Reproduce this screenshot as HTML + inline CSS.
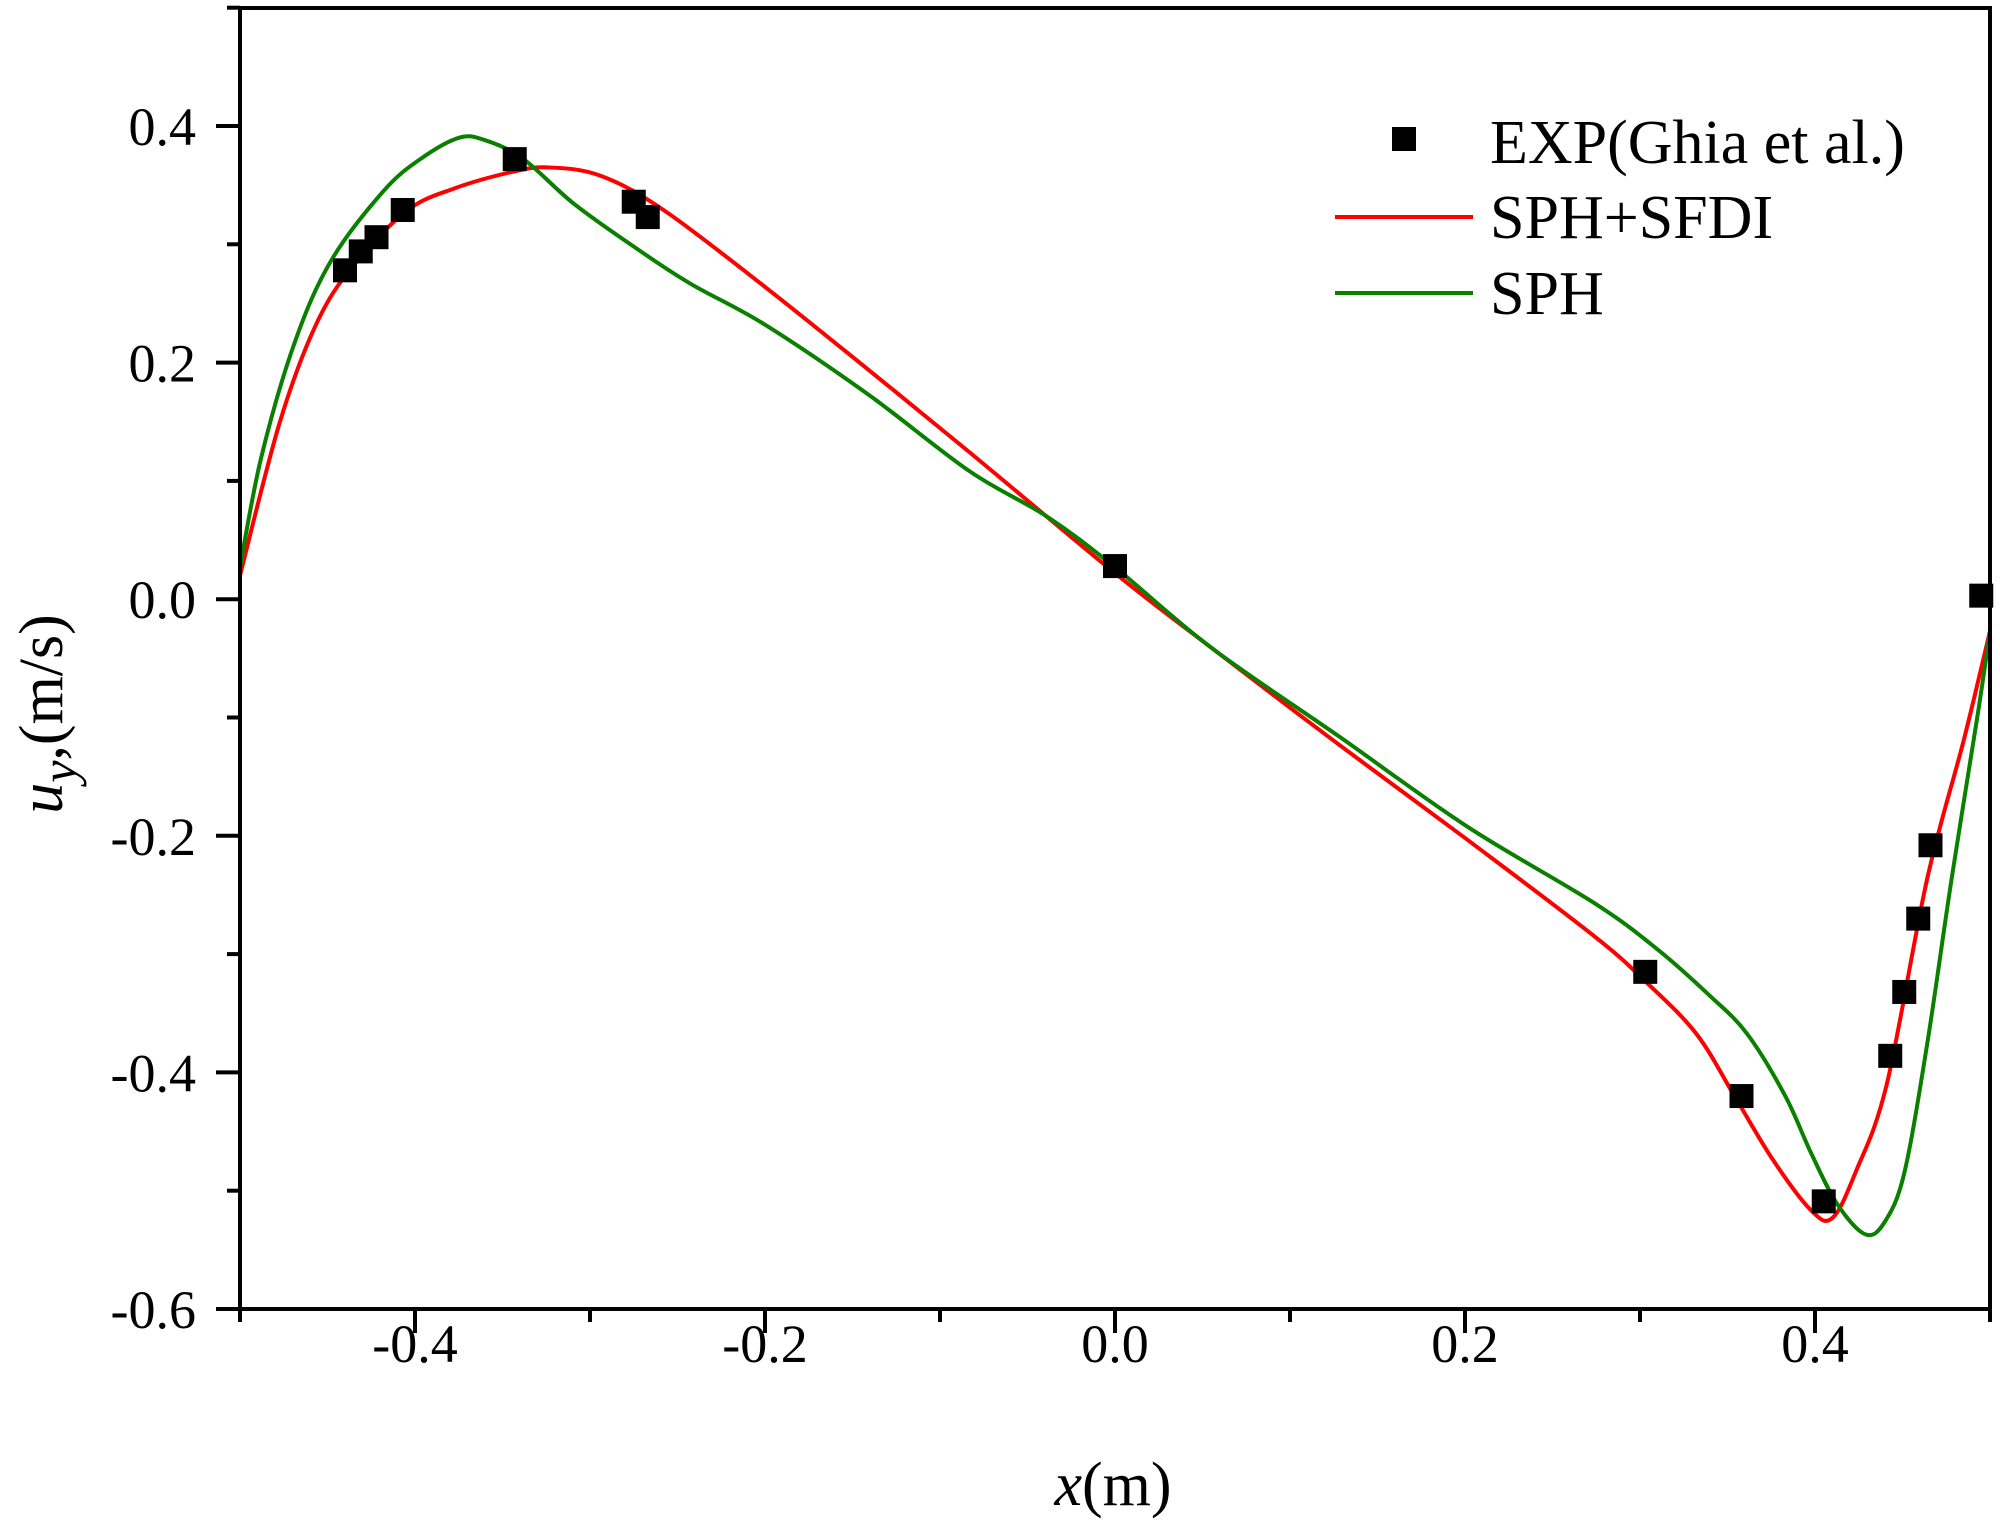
<!DOCTYPE html>
<html><head><meta charset="utf-8"><style>
html,body{margin:0;padding:0;background:#fff;}
svg{display:block;font-family:"Liberation Serif",serif;}
</style></head><body>
<svg id="chart" width="2000" height="1528" viewBox="0 0 2000 1528">
</svg>
<script>
const xTicks=[-0.4,-0.2,0.0,0.2,0.4];
const xTickLabels=["-0.4","-0.2","0.0","0.2","0.4"];
const xMinor=[-0.5,-0.3,-0.1,0.1,0.3,0.5];
const yTicks=[-0.6,-0.4,-0.2,0.0,0.2,0.4];
const yTickLabels=["-0.6","-0.4","-0.2","0.0","0.2","0.4"];
const yMinor=[-0.5,-0.3,-0.1,0.1,0.3,0.5];
const expX=[-0.440,-0.431,-0.422,-0.407,-0.343,-0.275,-0.267,0.0,0.303,0.358,0.405,0.443,0.451,0.459,0.466,0.495];
const expY=[0.278,0.294,0.306,0.329,0.372,0.336,0.323,0.028,-0.315,-0.420,-0.509,-0.386,-0.332,-0.270,-0.208,0.003];
const sfdiX=[-0.5,-0.477,-0.455,-0.433,-0.404,-0.378,-0.345,-0.324,-0.294,-0.258,-0.2,-0.141,-0.083,0,0.055,0.128,0.201,0.274,0.303,0.332,0.354,0.376,0.398,0.410,0.423,0.441,0.464,0.485,0.5];
const sfdiY=[0.02,0.151,0.237,0.286,0.329,0.347,0.361,0.365,0.358,0.329,0.264,0.194,0.124,0.022,-0.041,-0.123,-0.203,-0.285,-0.323,-0.367,-0.420,-0.474,-0.517,-0.523,-0.485,-0.410,-0.237,-0.119,-0.027];
const sphX=[-0.5,-0.488,-0.469,-0.448,-0.418,-0.397,-0.375,-0.360,-0.338,-0.309,-0.273,-0.243,-0.2,-0.141,-0.083,-0.039,0,0.055,0.128,0.201,0.274,0.310,0.339,0.361,0.383,0.398,0.413,0.429,0.440,0.451,0.464,0.478,0.493,0.5];
const sphY=[0.027,0.119,0.216,0.286,0.345,0.372,0.390,0.388,0.372,0.334,0.296,0.267,0.232,0.173,0.108,0.070,0.027,-0.041,-0.116,-0.192,-0.257,-0.296,-0.334,-0.367,-0.420,-0.469,-0.512,-0.537,-0.526,-0.485,-0.377,-0.237,-0.097,-0.027];

const NS="http://www.w3.org/2000/svg";
const svg=document.getElementById('chart');
const L=240,R=1990,T=8,B=1309;
function sx(v){return L+(v+0.5)*1750;}
function sy(v){return 126+(0.4-v)*1183;}
function mk(tag,attrs,parent){const e=document.createElementNS(NS,tag);for(const k in attrs)e.setAttribute(k,attrs[k]);(parent||svg).appendChild(e);return e;}

function pathOf(xs,ys){
  const p=xs.map((x,i)=>[sx(x),sy(ys[i])]);
  let d='M'+p[0][0].toFixed(1)+','+p[0][1].toFixed(1);
  for(let i=0;i<p.length-1;i++){
    const p0=p[Math.max(i-1,0)],p1=p[i],p2=p[i+1],p3=p[Math.min(i+2,p.length-1)];
    const c1=[p1[0]+(p2[0]-p0[0])/6,p1[1]+(p2[1]-p0[1])/6];
    const c2=[p2[0]-(p3[0]-p1[0])/6,p2[1]-(p3[1]-p1[1])/6];
    d+=' C'+c1[0].toFixed(1)+','+c1[1].toFixed(1)+' '+c2[0].toFixed(1)+','+c2[1].toFixed(1)+' '+p2[0].toFixed(1)+','+p2[1].toFixed(1);
  }
  return d;
}
const red=mk('path',{d:pathOf(sfdiX,sfdiY),fill:'none',stroke:'#ff0000','stroke-width':4,'stroke-linejoin':'round'});


const green=mk('path',{d:pathOf(sphX,sphY),fill:'none',stroke:'#0a8000','stroke-width':4,'stroke-linejoin':'round'});


expX.forEach((x,i)=>{
  const r=mk('rect',{x:sx(x)-12,y:sy(expY[i])-12,width:24,height:24,fill:'#000'});
  
  
});

const frame=mk('path',{d:`M${L},${T} H${R} V${B} H${L} Z`,fill:'none',stroke:'#000','stroke-width':4});



xTicks.forEach((v,i)=>{
  const t=mk('line',{x1:sx(v),x2:sx(v),y1:B,y2:B+24,stroke:'#000','stroke-width':4});
  
  
  const lb=mk('text',{x:sx(v),y:1362,'text-anchor':'middle','font-size':54});
  lb.textContent=xTickLabels[i];
  
  
});
xMinor.forEach(v=>{
  const t=mk('line',{x1:sx(v),x2:sx(v),y1:B,y2:B+13,stroke:'#000','stroke-width':4});
  
  
});
yTicks.forEach((v,i)=>{
  const t=mk('line',{x1:L-24,x2:L,y1:sy(v),y2:sy(v),stroke:'#000','stroke-width':4});
  
  
  const lb=mk('text',{x:196,y:sy(v)+19,'text-anchor':'end','font-size':54});
  lb.textContent=yTickLabels[i];
  
  
});
yMinor.forEach(v=>{
  const t=mk('line',{x1:L-13,x2:L,y1:sy(v),y2:sy(v),stroke:'#000','stroke-width':4});
  
  
});

const xt=mk('text',{x:1113,y:1505,'text-anchor':'middle','font-size':62});
xt.innerHTML='<tspan font-style="italic">x</tspan>(m)';


const yt=mk('text',{x:0,y:0,'text-anchor':'middle','font-size':62,transform:'translate(62,714) rotate(-90)'});
yt.innerHTML='<tspan font-style="italic">u</tspan><tspan font-style="italic" font-size="50" dy="14">y</tspan><tspan dy="-14">,(m/s)</tspan>';



const lg=mk('g',{});


const ls=mk('rect',{x:1392,y:127,width:24,height:24,fill:'#000'},lg);


const l1=mk('line',{x1:1335,x2:1473,y1:217,y2:217,stroke:'#ff0000','stroke-width':4},lg);


const l2=mk('line',{x1:1335,x2:1473,y1:293,y2:293,stroke:'#0a8000','stroke-width':4},lg);


[['EXP(Ghia et al.)',163,'legend-exp-label'],['SPH+SFDI',238,'legend-sfdi-label'],['SPH',314,'legend-sph-label']].forEach(a=>{
  const t=mk('text',{x:1490,y:a[1],'font-size':62},lg);
  t.textContent=a[0];
  
  
});
</script>
</body></html>
